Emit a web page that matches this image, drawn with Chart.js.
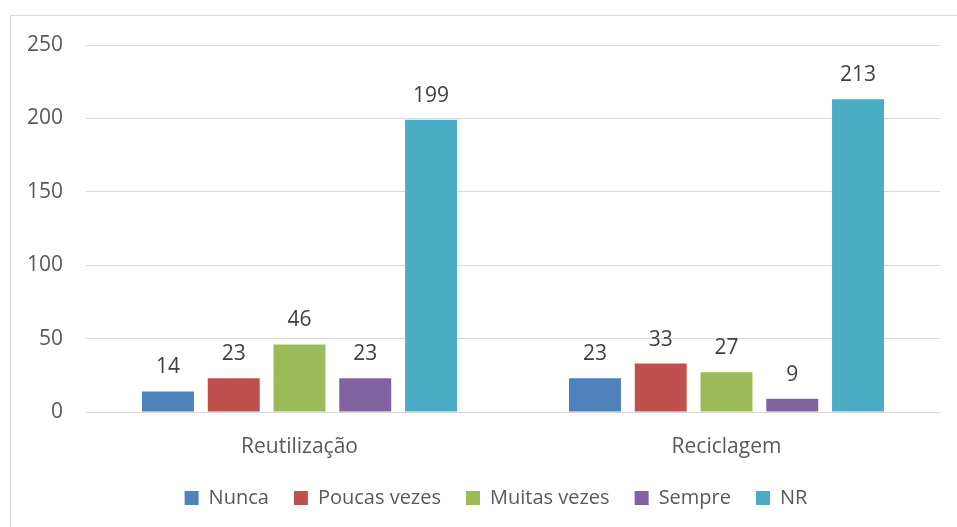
<!DOCTYPE html>
<html>
<head>
<meta charset="utf-8">
<script src="https://cdn.jsdelivr.net/npm/chart.js@4/dist/chart.umd.min.js"></script>
<style>
html,body{margin:0;padding:0;background:#fff;overflow:hidden;width:957px;height:527px;}
#wrap{position:absolute;left:0;top:0;width:957px;height:540px;}
</style>
</head>
<body>
<div id="wrap"><canvas id="c" width="957" height="540"></canvas></div>
<script>
const categories = ["Reutilização", "Reciclagem"];
const seriesNames = ["Nunca", "Poucas vezes", "Muitas vezes", "Sempre", "NR"];
const nunca = [14, 23];
const poucasVezes = [23, 33];
const muitasVezes = [46, 27];
const sempre = [23, 9];
const nr = [199, 213];
const yTickStep = 50;
const yMax = 250;

const colors = ["#4F81BD", "#C0504D", "#9BBB59", "#8064A2", "#4BACC6"];
const values = [nunca, poucasVezes, muitasVezes, sempre, nr];
const FONT = "'Open Sans', sans-serif";

const frame = {
  id: 'frame',
  afterLayout(chart) {
    if (chart.legend) { chart.legend.left += 16; chart.legend.right += 16; }
  },
  beforeDraw(chart) {
    const ctx = chart.ctx;
    ctx.save();
    ctx.fillStyle = '#fff';
    ctx.fillRect(0, 0, chart.width, chart.height);
    ctx.strokeStyle = '#d9d9d9';
    ctx.lineWidth = 1;
    ctx.strokeRect(10.5, 15.5, 1000, 1000);
    ctx.restore();
  }
};

const dataLabels = {
  id: 'dataLabels',
  afterDatasetsDraw(chart) {
    const ctx = chart.ctx;
    ctx.save();
    ctx.font = "21px " + FONT;
    ctx.fillStyle = '#404040';
    ctx.textAlign = 'center';
    ctx.textBaseline = 'alphabetic';
    chart.data.datasets.forEach((ds, i) => {
      const meta = chart.getDatasetMeta(i);
      meta.data.forEach((el, j) => {
        ctx.fillText(String(ds.data[j]), el.x, el.y - 18);
      });
    });
    ctx.restore();
  }
};

new Chart(document.getElementById('c'), {
  type: 'bar',
  data: {
    labels: categories,
    datasets: seriesNames.map((n, i) => ({
      label: n,
      data: values[i],
      backgroundColor: colors[i],
      borderWidth: 0,
      categoryPercentage: 0.77,
      barPercentage: 0.79
    }))
  },
  options: {
    responsive: false,
    animation: false,
    devicePixelRatio: 1,
    layout: { padding: { left: 20, right: 17, top: 45, bottom: 22 } },
    scales: {
      x: {
        grid: { display: false, drawTicks: false },
        border: { display: false },
        ticks: { color: '#595959', font: { family: FONT, size: 21 }, padding: 22 },
        afterFit(scale) { scale.height = 51; }
      },
      y: {
        min: 0, max: yMax,
        grid: { color: '#d9d9d9', drawTicks: false, lineWidth: 1 },
        border: { display: false },
        ticks: { stepSize: yTickStep, color: '#595959', font: { family: FONT, size: 21 }, padding: 23 },
        afterFit(scale) { scale.width = 66; }
      }
    },
    plugins: {
      legend: {
        position: 'bottom',
        labels: {
          boxWidth: 14, boxHeight: 14,
          color: '#595959',
          font: { family: FONT, size: 20 },
          padding: 25
        }
      },
      tooltip: { enabled: false }
    }
  },
  plugins: [frame, dataLabels]
});
</script>
</body>
</html>
